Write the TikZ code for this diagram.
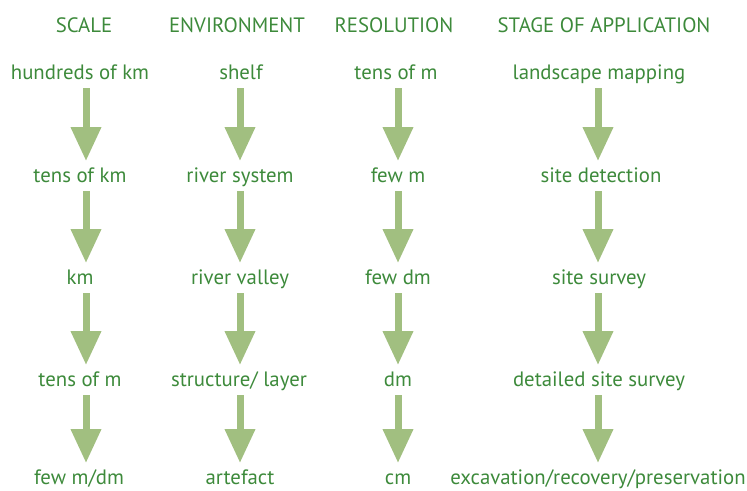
\documentclass[tikz,border=0pt]{standalone}
\usepackage{fontspec}
\setmainfont{PT Sans}
\usepackage{tikz}
\usetikzlibrary{arrows.meta}
\definecolor{leaf}{HTML}{3D8A3B}
\definecolor{stem}{HTML}{A1BF80}
\tikzset{
  every node/.style={font=\fontsize{20.8}{24}\selectfont,color=leaf,inner sep=0pt,anchor=base},
  head/.style={font=\fontsize{20.8}{24}\selectfont},
  ar/.style={-{Triangle[width=29pt,length=34pt]},draw=stem,line width=7pt,
             shorten <=9pt,shorten >=21pt},
}

\begin{document}
\begin{tikzpicture}[x=1pt,y=1pt]
\useasboundingbox (0,0) rectangle (747,-490);

% ---- headers ----
\node[head] (h1) at (84,-32)  {SCALE};
\node[head] (h2) at (237,-32) {ENVIRONMENT};
\node[head] (h3) at (394,-32) {RESOLUTION};
\node[head] (h4) at (604,-32) {STAGE OF APPLICATION};

% ---- scale ----
\node (a1) at (80,-79)  {hundreds of km};
\node (a2) at (80,-182) {tens of km};
\node (a3) at (80,-284) {km};
\node (a4) at (80,-386) {tens of m};
\node (a5) at (79,-484) {few m/dm};

% ---- environment ----
\node (b1) at (241,-79)  {shelf};
\node (b2) at (240,-182) {river system};
\node (b3) at (240,-284) {river valley};
\node (b4) at (239,-386) {structure/ layer};
\node (b5) at (240,-484) {artefact};

% ---- resolution ----
\node (c1) at (396,-79)  {tens of m};
\node (c2) at (398,-182) {few m};
\node (c3) at (398,-284) {few dm};
\node (c4) at (398,-386) {dm};
\node (c5) at (398,-484) {cm};

% ---- stage of application ----
\node (d1) at (599,-79)  {landscape mapping};
\node (d2) at (601,-182) {site detection};
\node (d3) at (599,-284) {site survey};
\node (d4) at (599,-386) {detailed site survey};
\node (d5) at (598,-484) {excavation/recovery/preservation};

% ---- arrow columns ----
\coordinate (ka) at (86,0);
\coordinate (kb) at (240,0);
\coordinate (kc) at (398,0);
\coordinate (kd) at (598,0);

% ---- arrows ----
\foreach \c in {a,b,c,d}
  \foreach \i/\j in {1/2,2/3,3/4,4/5}
    \draw[ar] (k\c |- \c\i.base) -- (k\c |- \c\j.base);

\end{tikzpicture}
\end{document}
